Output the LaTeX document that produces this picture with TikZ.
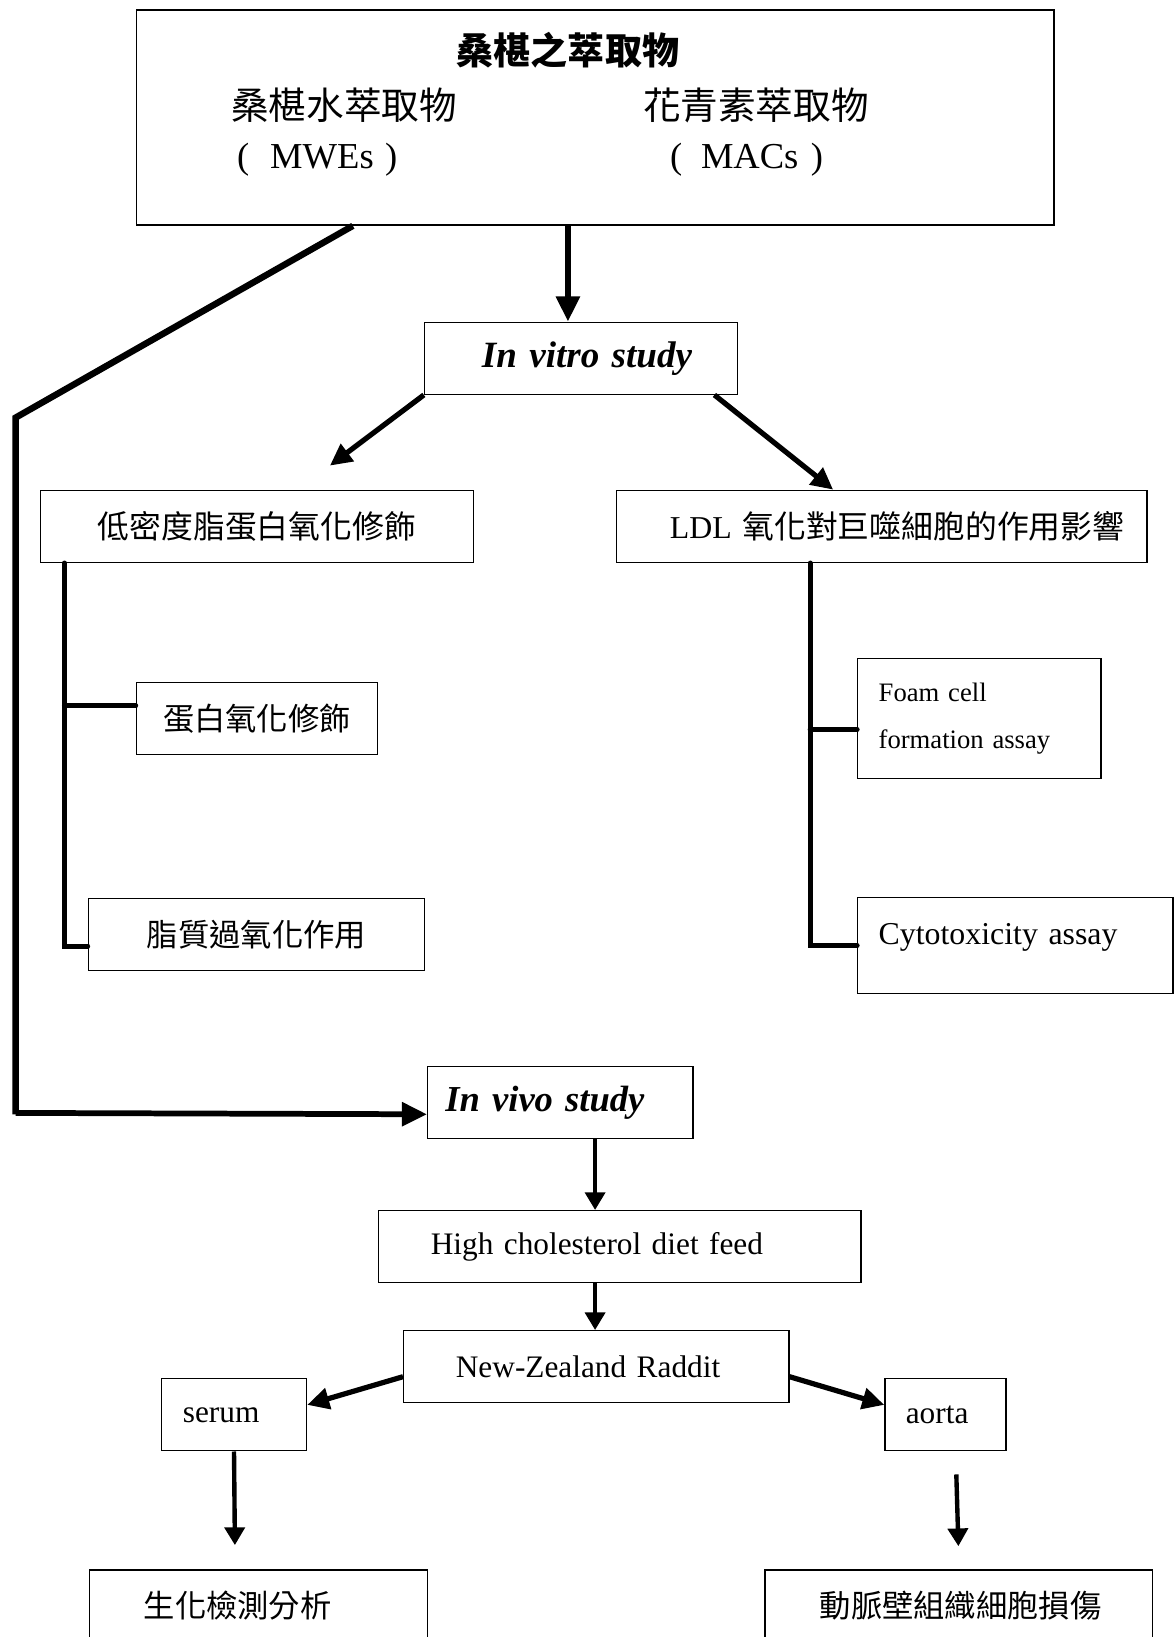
\documentclass[tikz,border=0pt]{standalone}
\usepackage{fontspec}
\setmainfont{Liberation Serif}
\newfontfamily\cjk{Noto Sans CJK TC}
\usetikzlibrary{arrows.meta}
\newcommand\fsz[1]{\fontsize{#1pt}{#1pt}\selectfont}
\begin{document}
\begin{tikzpicture}[x=1pt,y=-1pt,
  bx/.style={draw, line width=1.3pt, inner sep=0pt, anchor=north west},
  lbx/.style={bx, align=left},
  cbx/.style={bx, align=center},
  txt/.style={inner sep=0pt},
  polyl/.style={line width=6.2pt, line join=miter},
  brk/.style={line width=4.8pt, line cap=round},
  arrA/.style={line width=5.5pt, -{Triangle[length=24pt,width=22pt]}},
  arrM/.style={line width=5pt, -{Triangle[length=21pt,width=20pt]}},
  arrS/.style={line width=4.2pt, -{Triangle[length=17pt,width=19pt]}},
  arrV/.style={line width=5.5pt, -{Triangle[length=24pt,width=22pt]}}
]
\useasboundingbox (0,0) rectangle (1125,1568);
\fill[white] (0,0) rectangle (1125,1568);

% top box and texts
\node[bx, minimum width=879pt, minimum height=206pt] (top) at (130,9) {};
\node[txt, font=\cjk\bfseries\fsz{35.5}] (title) at (544,48) {桑椹之萃取物};
\node[txt, font=\cjk\fsz{36}] (mwecn) at (329.6,101) {桑椹水萃取物};
\node[txt, font=\cjk\fsz{36}] (maccn) at (724,101) {花青素萃取物};
\node[txt, font=\fsz{35}, anchor=west] (mwe) at (227,153) {(\hspace{20pt}MWEs\hspace{11pt})};
\node[txt, font=\fsz{35}, anchor=west] (mac) at (641.6,153) {(\hspace{18pt}MACs\hspace{12pt})};

% in vitro branch
\node[lbx, text width=300pt, minimum height=69pt, font=\bfseries\itshape\fsz{35.5}] (vitro) at (406,308) {\hspace*{55pt}In vitro study};
\node[cbx, text width=415pt, minimum height=69pt, font=\cjk\fsz{30.5}] (ldlox) at (38,469) {低密度脂蛋白氧化修飾};
\node[lbx, text width=508pt, minimum height=69pt, font=\fsz{30.5}] (ldlmac) at (590,469) {\hspace*{51pt}LDL {\cjk 氧化對巨噬細胞的作用影響}};
\node[cbx, text width=231pt, minimum height=69pt, font=\cjk\fsz{30}] (prot) at (130,653) {蛋白氧化修飾};
\node[cbx, text width=322pt, minimum height=69pt, font=\cjk\fsz{30}] (lipid) at (84,860) {脂質過氧化作用};
\node[lbx, text width=233pt, minimum height=115pt, font=\fontsize{25.5pt}{45pt}\selectfont] (foam) at (821,630) {\hspace*{20pt}Foam cell\\\hspace*{20pt}formation assay};
\node[lbx, text width=302pt, minimum height=92pt, font=\fsz{30.5}] (cyto) at (821,859) {\hspace*{20pt}\raisebox{22pt}{Cytotoxicity assay}};

% in vivo branch
\node[lbx, text width=254pt, minimum height=69pt, font=\bfseries\itshape\fsz{35}] (vivo) at (409,1021) {\hspace*{17pt}In vivo study};
\node[lbx, text width=462pt, minimum height=69pt, font=\fsz{30}] (hcd) at (362,1159) {\hspace*{50pt}High cholesterol diet feed};
\node[lbx, text width=369pt, minimum height=69pt, font=\fsz{30}] (nz) at (386,1274) {\hspace*{50pt}New-Zealand Raddit};
\node[lbx, text width=139pt, minimum height=69pt, font=\fsz{30}] (serum) at (154,1320) {\hspace*{20.5pt}serum};
\node[lbx, text width=116pt, minimum height=69pt, font=\fsz{30}] (aorta) at (847,1320) {\hspace*{20pt}aorta};
\node[lbx, text width=324pt, minimum height=68pt, font=\cjk\fsz{30}] (bio) at (85,1503) {\hspace*{52pt}生化檢測分析};
\node[lbx, text width=371pt, minimum height=68pt, font=\cjk\fsz{30}] (art) at (732,1503) {\hspace*{52.5pt}動脈壁組織細胞損傷};

% coordinates for connectors
\coordinate (c1) at ([xshift=414pt]top.south west);
\coordinate (c2) at ([xshift=208pt]top.south west);
\coordinate (c3) at ([yshift=24pt]vivo.south west);
\coordinate (t1) at ([xshift=278pt,yshift=23pt]ldlox.north west);
\coordinate (c4) at ([xshift=-23pt]vitro.south east);
\coordinate (c5) at ([xshift=208pt]ldlmac.north west);
\coordinate (b1) at ([xshift=23.7pt]ldlox.south west);
\coordinate (b2) at ([yshift=12pt]prot.west);
\coordinate (b3) at ([yshift=-11pt]lipid.west);
\coordinate (r1) at ([xshift=186pt]ldlmac.south west);
\coordinate (r2) at ([yshift=-10.5pt]foam.west);
\coordinate (r3) at (cyto.west);
\coordinate (v1) at ([xshift=161pt]vivo.south west);
\coordinate (h1) at ([xshift=208pt]hcd.south west);
\coordinate (n1) at ([yshift=-9.5pt]nz.west);
\coordinate (s1) at ([yshift=9.5pt]serum.east);
\coordinate (n2) at ([yshift=-9.5pt]nz.east);
\coordinate (s3) at ([yshift=9.5pt]aorta.west);
\coordinate (s2) at ([xshift=140pt,yshift=23pt]bio.north west);
\coordinate (a1) at ([xshift=69pt,yshift=-22pt]aorta.south west);
\coordinate (a2) at ([xshift=186pt,yshift=22pt]art.north west);

% connectors
\draw[arrA] (c1) -- (c1 |- vitro.north);
\draw[polyl] (c2) -- (15,400) -- (15,1066) -- (c3 -| 15,0);
\draw[arrV] (15,1066) -- (c3);
\draw[arrM] (vitro.south west) -- (t1);
\draw[arrM] (c4) -- (c5);
\draw[brk] (b1) -- (b1 |- b3) -- (b3);
\draw[brk] (b1 |- b2) -- (b2);
\draw[brk] (r1) -- (r1 |- r3) -- (r3);
\draw[brk] (r1 |- r2) -- (r2);
\draw[arrS] (v1) -- (v1 |- hcd.north);
\draw[arrS] (h1) -- (h1 |- nz.north);
\draw[arrM] (n1) -- (s1);
\draw[arrM] (n2) -- (s3);
\draw[arrS] (serum.south) -- (s2);
\draw[arrS] (a1) -- (a2);
\end{tikzpicture}
\end{document}
